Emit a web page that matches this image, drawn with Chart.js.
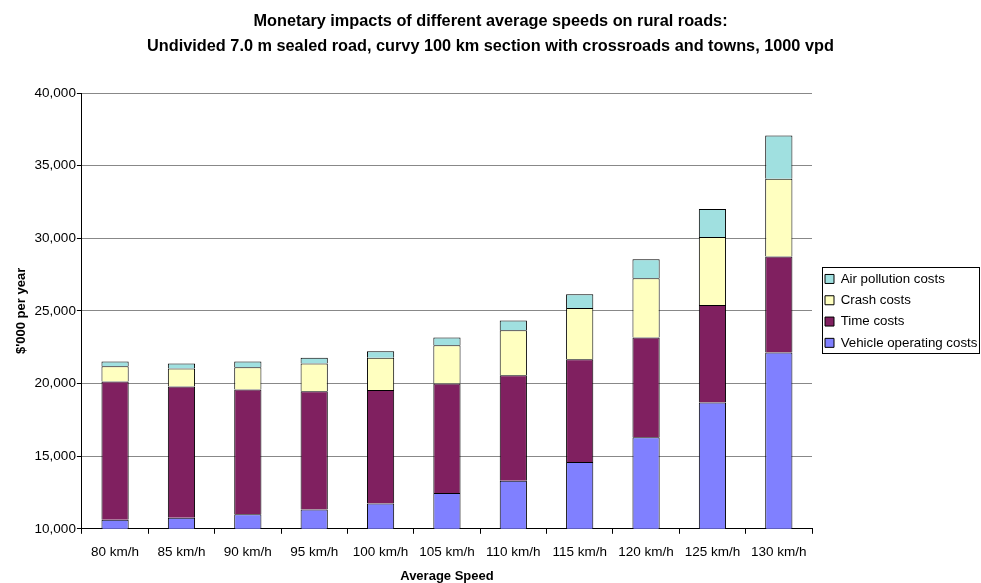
<!DOCTYPE html>
<html>
<head>
<meta charset="utf-8">
<script src="https://cdn.jsdelivr.net/npm/chart.js@4"></script>
<style>
  html, body { margin: 0; padding: 0; background: #fff; }
  #wrap { width: 981px; height: 583px; }
</style>
</head>
<body>
<div id="wrap"><canvas id="c" width="981" height="583"></canvas></div>
<script>
// ---- data ($'000 per year) ----
const speeds = ["80 km/h", "85 km/h", "90 km/h", "95 km/h", "100 km/h", "105 km/h",
                "110 km/h", "115 km/h", "120 km/h", "125 km/h", "130 km/h"];
const vehicleCosts = [10620, 10760, 11010, 11330, 11740, 12470, 13310, 14600, 16300, 18690, 22140];
const timeCosts    = [9520, 9030, 8580, 8140, 7820, 7530, 7260, 7080, 6870, 6710, 6610];
const crashCosts   = [1050, 1240, 1530, 1910, 2210, 2630, 3090, 3520, 4070, 4690, 5340];
const airCosts     = [320, 350, 390, 390, 450, 540, 680, 940, 1310, 1930, 2980];
const yTicks = [10000, 15000, 20000, 25000, 30000, 35000, 40000];

const FONT = "'Liberation Sans', Arial, sans-serif";

// легенда чуть правее + рамка вокруг неё, как в оригинале
const legendFrame = {
  id: "legendFrame",
  afterLayout(chart) {
    const lg = chart.legend;
    if (!lg) return;
    lg.left += 5;
    lg.right += 5;
  },
  afterDraw(chart) {
    const lg = chart.legend;
    if (!lg || !lg.legendHitBoxes.length) return;
    const boxes = lg.legendHitBoxes;
    const x0 = Math.min(...boxes.map(b => b.left)) - 3;
    const y0 = Math.min(...boxes.map(b => b.top)) - 5;
    const x1 = Math.max(...boxes.map(b => b.left + b.width)) + 2;
    const y1 = Math.max(...boxes.map(b => b.top + b.height)) + 4;
    const ctx = chart.ctx;
    ctx.save();
    ctx.strokeStyle = "#000";
    ctx.lineWidth = 1;
    ctx.strokeRect(Math.round(x0) + 0.5, Math.round(y0) + 0.5, Math.round(x1 - x0), Math.round(y1 - y0));
    ctx.restore();
  }
};

function ds(label, data, color) {
  return { label, data, backgroundColor: color, borderColor: "#000", borderWidth: 1,
           barPercentage: 0.41, categoryPercentage: 1 };
}

new Chart(document.getElementById("c"), {
  type: "bar",
  data: {
    labels: speeds,
    datasets: [
      ds("Vehicle operating costs", vehicleCosts, "#8080ff"),
      ds("Time costs", timeCosts, "#802060"),
      ds("Crash costs", crashCosts, "#ffffc0"),
      ds("Air pollution costs", airCosts, "#a0e0e0"),
    ],
  },
  plugins: [legendFrame],
  options: {
    responsive: false,
    animation: false,
    layout: { padding: { left: 0, right: 0, top: 0, bottom: 0 } },
    plugins: {
      title: {
        display: true,
        text: ["Monetary impacts of different average speeds on rural roads:",
               "Undivided 7.0 m sealed road, curvy 100 km section with crossroads and towns, 1000 vpd"],
        color: "#000",
        font: { family: FONT, size: 16.3, weight: "bold", lineHeight: 1.534 },
        padding: { top: 9, bottom: 34 },
      },
      legend: {
        position: "right",
        fullSize: false,
        reverse: true,
        maxWidth: 169,
        labels: {
          color: "#000",
          font: { family: FONT, size: 13.3 },
          boxWidth: 9, boxHeight: 9, padding: 8,
        },
      },
      tooltip: { enabled: false },
    },
    scales: {
      x: {
        stacked: true,
        grid: { offset: true, drawOnChartArea: false, color: "#000", tickLength: 5 },
        border: { color: "#000" },
        ticks: { color: "#000", font: { family: FONT, size: 13.5 }, maxRotation: 0, padding: 10 },
        title: { display: true, text: "Average Speed", color: "#000",
                 font: { family: FONT, size: 13, weight: "bold", lineHeight: 1 }, padding: { top: 0, bottom: 0 } },
      },
      y: {
        stacked: true,
        min: 10000, max: 40000,
        afterBuildTicks: axis => { axis.ticks = yTicks.map(v => ({ value: v })); },
        grid: { color: "#888", tickColor: "#000", tickLength: 5 },
        border: { color: "#000" },
        ticks: { color: "#000", font: { family: FONT, size: 13.5 }, padding: 1,
                 callback: v => v.toLocaleString("en-US") },
        title: { display: true, text: "$'000 per year", color: "#000",
                 font: { family: FONT, size: 13, weight: "bold" }, padding: { top: 14, bottom: 4 } },
      },
    },
  },
});
</script>
</body>
</html>
